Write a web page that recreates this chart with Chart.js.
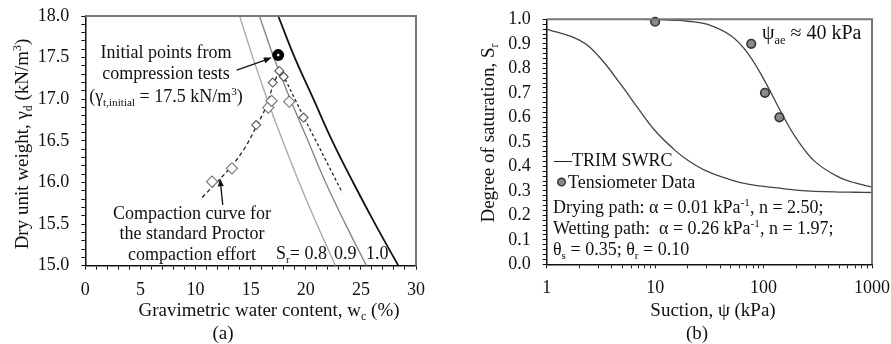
<!DOCTYPE html>
<html>
<head>
<meta charset="utf-8">
<script src="https://cdn.jsdelivr.net/npm/chart.js@4.4.1/dist/chart.umd.min.js"></script>
<style>
html,body{margin:0;padding:0;background:#fff;}
#wrap{position:relative;width:891px;height:344px;overflow:hidden;}
#ca{position:absolute;left:0;top:0;}
#cb{position:absolute;left:445px;top:0;}
</style>
</head>
<body>
<div id="wrap">
<canvas id="ca" width="445" height="344"></canvas>
<canvas id="cb" width="446" height="344"></canvas>
</div>
<script>
// ---------- Panel (a) data ----------
const gammaLevels = [18.0, 17.5, 17.0, 16.5, 16.0, 15.5, 15.0];
const wSr08 = [14.0, 15.2, 16.5, 17.9, 19.4, 21.0, 22.7];
const wSr09 = [15.8, 17.1, 18.6, 20.2, 21.8, 23.6, 25.5];
const wSr10 = [17.5, 19.0, 20.7, 22.4, 24.3, 26.3, 28.4];
const compLeftW = [10.6, 12.2, 13.3, 14.5, 15.5, 16.3, 17.0, 17.6];
const compLeftG = [15.82, 16.04, 16.20, 16.42, 16.67, 16.88, 17.15, 17.35];
const compRightW = [17.6, 18.2, 19.8, 21.5, 23.3];
const compRightG = [17.35, 17.22, 16.79, 16.35, 15.88];
const diamBigW = [11.5, 13.3, 16.6, 16.9, 18.5];
const diamBigG = [16.01, 16.17, 16.90, 16.98, 16.97];
const diamSmallW = [15.5, 17.0, 17.6, 18.0, 19.8];
const diamSmallG = [16.69, 17.20, 17.34, 17.27, 16.78];
const initW = [17.5];
const initG = [17.53];
const xTickLabelsA = [0, 5, 10, 15, 20, 25, 30];
const yTickLabelsA = [15.0, 15.5, 16.0, 16.5, 17.0, 17.5, 18.0];

// ---------- Panel (b) data ----------
const psi = [1, 2, 3, 5, 7, 10, 15, 20, 30, 50, 70, 100, 150, 200, 300, 500, 700, 1000];
const sDrying = [1.0, 1.0, 1.0, 1.0, 0.9998, 0.999, 0.996, 0.992, 0.98, 0.933, 0.867, 0.757, 0.609, 0.515, 0.418, 0.355, 0.332, 0.315];
const sWetting = [0.96, 0.915, 0.85, 0.725, 0.635, 0.545, 0.468, 0.425, 0.38, 0.345, 0.328, 0.318, 0.309, 0.303, 0.298, 0.295, 0.294, 0.293];
const psiTens = [10, 77, 103, 140];
const sTens = [0.99, 0.90, 0.70, 0.60];
const xTickLabelsB = [1, 10, 100, 1000];
const yTickLabelsB = [0.0, 0.1, 0.2, 0.3, 0.4, 0.5, 0.6, 0.7, 0.8, 0.9, 1.0];

const FONT = '"Liberation Serif", "Times New Roman", serif';
const TXT = '#111';

function pts(xs, ys) { return xs.map((x, i) => ({ x: x, y: ys[i] })); }

// minor tick positions
function range(a, b, step) { const r = []; const n = Math.round((b - a) / step); for (let i = 0; i <= n; i++) r.push(+(a + i * step).toFixed(4)); return r; }
const xMinorA = range(0, 30, 1);
const yMinorA = range(15, 18, 0.1);
const yMinorB = range(0, 1, 0.02);
const xMinorB = [];
[1, 10, 100].forEach(d => { for (let k = 1; k < 10; k++) xMinorB.push(d * k); });
xMinorB.push(1000);

// ---------- rich text helper ----------
function fontFor(seg, size) {
  const s = seg.s ? size * 0.62 : size;
  return s.toFixed(1) + 'px ' + FONT;
}
function richWidth(ctx, segs, size) {
  let w = 0;
  for (const s of segs) { ctx.font = fontFor(s, size); w += ctx.measureText(s.t).width; }
  return w;
}
function drawRich(ctx, segs, x, yc, align, size) {
  const w = richWidth(ctx, segs, size);
  let cx = align === 'center' ? x - w / 2 : (align === 'right' ? x - w : x);
  const base = yc + size * 0.32;
  ctx.textAlign = 'left';
  ctx.textBaseline = 'alphabetic';
  ctx.fillStyle = TXT;
  for (const s of segs) {
    ctx.font = fontFor(s, size);
    const dy = s.s === 'sub' ? size * 0.22 : (s.s === 'sup' ? -size * 0.36 : 0);
    ctx.fillText(s.t, cx, base + dy);
    cx += ctx.measureText(s.t).width;
  }
}
function drawRichRot(ctx, segs, x, y, size) {
  ctx.save();
  ctx.translate(x, y);
  ctx.rotate(-Math.PI / 2);
  drawRich(ctx, segs, 0, 0, 'center', size);
  ctx.restore();
}
function arrow(ctx, x0, y0, x1, y1) {
  ctx.save();
  ctx.strokeStyle = '#111'; ctx.fillStyle = '#111'; ctx.lineWidth = 1.3;
  const a = Math.atan2(y1 - y0, x1 - x0);
  const L = 8, W = 3;
  ctx.beginPath(); ctx.moveTo(x0, y0); ctx.lineTo(x1 - L * 0.8 * Math.cos(a), y1 - L * 0.8 * Math.sin(a)); ctx.stroke();
  ctx.beginPath();
  ctx.moveTo(x1, y1);
  ctx.lineTo(x1 - L * Math.cos(a) + W * Math.sin(a), y1 - L * Math.sin(a) - W * Math.cos(a));
  ctx.lineTo(x1 - L * Math.cos(a) - W * Math.sin(a), y1 - L * Math.sin(a) + W * Math.cos(a));
  ctx.closePath(); ctx.fill();
  ctx.restore();
}
function frame(chart) {
  const ctx = chart.ctx, a = chart.chartArea;
  ctx.save();
  ctx.strokeStyle = '#777'; ctx.lineWidth = 2;
  ctx.beginPath();
  ctx.moveTo(a.left, a.top); ctx.lineTo(a.right, a.top); ctx.lineTo(a.right, a.bottom);
  ctx.stroke();
  ctx.restore();
}
function fixX(h) { return s => { s.height = h; s.paddingLeft = 0; s.paddingRight = 0; }; }
function fixY(w) { return s => { s.width = w; s.paddingTop = 0; s.paddingBottom = 0; }; }

const annotA = {
  id: 'annotA',
  afterDraw(chart) {
    const ctx = chart.ctx, xs = chart.scales.x, ys = chart.scales.y;
    frame(chart);
    const S = 18, T = 19;
    arrow(ctx, xs.getPixelForValue(13.74), ys.getPixelForValue(17.35), xs.getPixelForValue(16.92), ys.getPixelForValue(17.50));
    arrow(ctx, xs.getPixelForValue(12.47), ys.getPixelForValue(15.73), xs.getPixelForValue(12.22), ys.getPixelForValue(16.05));
    drawRich(ctx, [{ t: 'Initial points from' }], 166, 52, 'center', S);
    drawRich(ctx, [{ t: 'compression tests' }], 166, 73, 'center', S);
    drawRich(ctx, [{ t: '(γ' }, { t: 't,initial', s: 'sub' }, { t: ' = 17.5 kN/m' }, { t: '3', s: 'sup' }, { t: ')' }], 166, 96, 'center', S);
    drawRich(ctx, [{ t: 'Compaction curve for' }], 192, 213, 'center', S);
    drawRich(ctx, [{ t: 'the standard Proctor' }], 192, 233, 'center', S);
    drawRich(ctx, [{ t: 'compaction effort' }], 192, 254, 'center', S);
    drawRich(ctx, [{ t: 'S' }, { t: 'r', s: 'sub' }, { t: '= 0.8' }], 276, 253, 'left', S);
    drawRich(ctx, [{ t: '0.9' }], 334, 253, 'left', S);
    drawRich(ctx, [{ t: '1.0' }], 366, 253, 'left', S);
    drawRich(ctx, [{ t: 'Gravimetric water content, w' }, { t: 'c', s: 'sub' }, { t: ' (%)' }], 269, 310, 'center', T);
    drawRich(ctx, [{ t: '(a)' }], 223, 333, 'center', T);
    drawRichRot(ctx, [{ t: 'Dry unit weight, γ' }, { t: 'd', s: 'sub' }, { t: ' (kN/m' }, { t: '3', s: 'sup' }, { t: ')' }], 22, 144, T);
  }
};

const annotB = {
  id: 'annotB',
  afterDraw(chart) {
    const ctx = chart.ctx;
    frame(chart);
    const S = 18, T = 19;
    const o = 445;
    drawRich(ctx, [{ t: 'ψ' }, { t: 'ae', s: 'sub' }, { t: ' ≈ 40 kPa' }], 762 - o, 33, 'left', 20);
    drawRich(ctx, [{ t: '—TRIM SWRC' }], 554 - o, 160, 'left', S);
    ctx.save();
    ctx.beginPath(); ctx.arc(561.5 - o, 182, 3.8, 0, Math.PI * 2);
    ctx.fillStyle = '#8a8a8a'; ctx.fill(); ctx.lineWidth = 1.4; ctx.strokeStyle = '#333'; ctx.stroke();
    ctx.restore();
    drawRich(ctx, [{ t: 'Tensiometer Data' }], 568 - o, 182, 'left', S);
    drawRich(ctx, [{ t: 'Drying path: α = 0.01 kPa' }, { t: '-1', s: 'sup' }, { t: ', n = 2.50;' }], 553 - o, 207, 'left', S);
    drawRich(ctx, [{ t: 'Wetting path:  α = 0.26 kPa' }, { t: '-1', s: 'sup' }, { t: ', n = 1.97;' }], 553 - o, 228, 'left', S);
    drawRich(ctx, [{ t: 'θ' }, { t: 's', s: 'sub' }, { t: ' = 0.35; θ' }, { t: 'r', s: 'sub' }, { t: ' = 0.10' }], 553 - o, 249, 'left', S);
    drawRich(ctx, [{ t: 'Suction, ψ (kPa)' }], 713 - o, 310, 'center', T);
    drawRich(ctx, [{ t: '(b)' }], 697 - o, 333, 'center', T);
    drawRichRot(ctx, [{ t: 'Degree of saturation, S' }, { t: 'r', s: 'sub' }], 488 - o, 133, T);
  }
};

const tickFont = { family: FONT, size: 18 };

// ---------- Chart (a) ----------
new Chart(document.getElementById('ca'), {
  type: 'scatter',
  data: {
    datasets: [
      { data: pts(initW, initG), pointStyle: 'circle', pointRadius: 1.3, backgroundColor: '#fff', borderWidth: 0, clip: false },
      { data: pts(initW, initG), pointStyle: 'circle', pointRadius: 6, backgroundColor: '#000', borderColor: '#000', borderWidth: 0, clip: false },
      { data: pts(diamSmallW, diamSmallG), pointStyle: 'rectRot', pointRadius: 4.5, backgroundColor: '#fff', borderColor: '#555', borderWidth: 1.1 },
      { data: pts(diamBigW, diamBigG), pointStyle: 'rectRot', pointRadius: 5.6, backgroundColor: '#fff', borderColor: '#777', borderWidth: 1.1 },
      { data: pts(compLeftW, compLeftG), showLine: true, pointRadius: 0, borderColor: '#222', borderWidth: 1.3, borderDash: [4, 3], tension: 0.35 },
      { data: pts(compRightW, compRightG), showLine: true, pointRadius: 0, borderColor: '#222', borderWidth: 1.3, borderDash: [3, 2.5], tension: 0.2 },
      { data: pts(wSr08, gammaLevels), showLine: true, pointRadius: 0, borderColor: '#aaa', borderWidth: 1.4, tension: 0.4 },
      { data: pts(wSr09, gammaLevels), showLine: true, pointRadius: 0, borderColor: '#888', borderWidth: 1.4, tension: 0.4 },
      { data: pts(wSr10, gammaLevels), showLine: true, pointRadius: 0, borderColor: '#111', borderWidth: 1.8, tension: 0.4 }
    ]
  },
  options: {
    responsive: false, animation: false,
    layout: { padding: { left: 0, top: 16, right: 29, bottom: 0 } },
    plugins: { legend: { display: false }, tooltip: { enabled: false } },
    scales: {
      x: {
        type: 'linear', min: 0, max: 30,
        afterFit: fixX(78.3),
        afterBuildTicks: s => { s.ticks = xMinorA.map(v => ({ value: v })); },
        ticks: { autoSkip: false, maxRotation: 0, padding: 10, font: tickFont, color: TXT,
          callback: v => xTickLabelsA.includes(v) ? String(v) : '' },
        grid: { drawOnChartArea: false, drawTicks: true, tickLength: 4, tickColor: '#111', tickWidth: 1 },
        border: { color: '#111', width: 1.5 }
      },
      y: {
        type: 'linear', min: 15, max: 18,
        afterFit: fixY(85.3),
        afterBuildTicks: s => { s.ticks = yMinorA.map(v => ({ value: v })); },
        ticks: { autoSkip: false, padding: 12, font: tickFont, color: TXT,
          callback: v => yTickLabelsA.some(t => Math.abs(t - v) < 1e-6) ? v.toFixed(1) : '' },
        grid: { drawOnChartArea: false, drawTicks: true, tickLength: 4, tickColor: '#111', tickWidth: 1 },
        border: { color: '#111', width: 1.5 }
      }
    }
  },
  plugins: [annotA]
});

// ---------- Chart (b) ----------
new Chart(document.getElementById('cb'), {
  type: 'scatter',
  data: {
    datasets: [
      { data: pts(psiTens, sTens), pointStyle: 'circle', pointRadius: 4.3, backgroundColor: '#8a8a8a', borderColor: '#333', borderWidth: 1.6, clip: false },
      { data: pts(psi, sDrying), showLine: true, pointRadius: 0, borderColor: '#444', borderWidth: 1.3, tension: 0.4 },
      { data: pts(psi, sWetting), showLine: true, pointRadius: 0, borderColor: '#444', borderWidth: 1.3, tension: 0.4 }
    ]
  },
  options: {
    responsive: false, animation: false,
    layout: { padding: { left: 0, top: 19.3, right: 19, bottom: 0 } },
    plugins: { legend: { display: false }, tooltip: { enabled: false } },
    scales: {
      x: {
        type: 'logarithmic', min: 1, max: 1000,
        afterFit: fixX(79.7),
        afterBuildTicks: s => { s.ticks = xMinorB.map(v => ({ value: v })); },
        ticks: { autoSkip: false, maxRotation: 0, padding: 9, font: tickFont, color: TXT,
          callback: v => xTickLabelsB.includes(v) ? String(v) : '' },
        grid: { drawOnChartArea: false, drawTicks: true, tickLength: 4, tickColor: '#111', tickWidth: 1 },
        border: { color: '#111', width: 1.5 }
      },
      y: {
        type: 'linear', min: 0, max: 1,
        afterFit: fixY(101.7),
        afterBuildTicks: s => { s.ticks = yMinorB.map(v => ({ value: v })); },
        ticks: { autoSkip: false, padding: 12, font: tickFont, color: TXT,
          callback: v => yTickLabelsB.some(t => Math.abs(t - v) < 1e-6) ? v.toFixed(1) : '' },
        grid: { drawOnChartArea: false, drawTicks: true, tickLength: 4, tickColor: '#111', tickWidth: 1 },
        border: { color: '#111', width: 1.5 }
      }
    }
  },
  plugins: [annotB]
});
</script>
</body>
</html>
